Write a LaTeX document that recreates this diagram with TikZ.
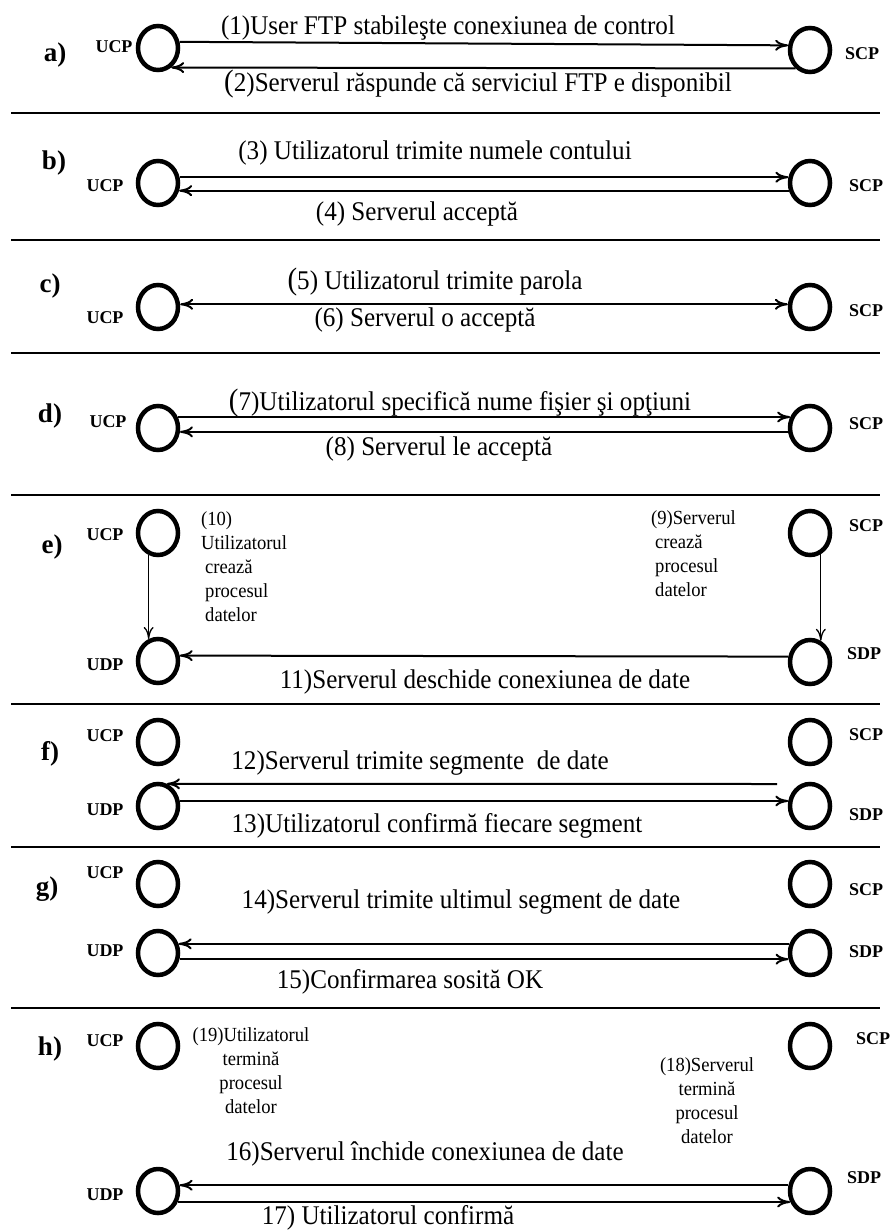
\documentclass[tikz,border=0pt]{standalone}
\usepackage{fontspec}
\setmainfont{Liberation Serif}
\newfontfamily\labfont[FakeStretch=0.93]{Liberation Serif}
\usetikzlibrary{arrows.meta,shapes.geometric}
\tikzset{
  proc/.style={ellipse, draw, line width=4.5pt, minimum width=40pt, minimum height=44pt, inner sep=0pt},
  arr/.style={line width=2pt, -{Computer Modern Rightarrow[length=13pt,width=11pt]}},
  darr/.style={line width=2pt, {Computer Modern Rightarrow[length=13pt,width=11pt]}-{Computer Modern Rightarrow[length=13pt,width=11pt]}},
  varr/.style={line width=1.3pt, -{Computer Modern Rightarrow[length=12pt,width=10pt]}},
  msg/.style={font=\labfont\fontsize{27}{30}\selectfont, anchor=base, inner sep=0pt},
  note/.style={font=\labfont\fontsize{20}{24}\selectfont, inner sep=0pt},
  tag/.style={font=\bfseries\fontsize{18}{20}\selectfont, inner sep=0pt},
  sec/.style={font=\bfseries\fontsize{27}{30}\selectfont, anchor=base, inner sep=0pt},
  sepline/.style={line width=2pt}
}
\newcommand{\bigpar}{{\fontsize{31}{31}\selectfont(}}
\begin{document}
\begin{tikzpicture}[x=1pt,y=-1pt]
\useasboundingbox (0,0) rectangle (893,1230);

% separators
\foreach \yy in {113,240,353,495,704,847,1008}
  \draw[sepline] (11,\yy) -- (880,\yy);

% ---------- a)
\node[sec] (secA) at (55,62) {a)};
\node[proc] (ucpA) at (158,48) {};
\node[proc] (scpA) at (810,50) {};
\node[tag] (tUcpA) at (114,47) {UCP};
\node[tag] (tScpA) at (862,54) {SCP};
\draw[arr] (ucpA.16) -- (scpA.168);
\draw[arr] (scpA.-128) -- (ucpA.-56);
\node[msg] (mA1) at (448,35) {(1)User FTP stabileşte conexiunea de control};
\node[msg] (mA2) at (478,92) {\bigpar2)Serverul răspunde că serviciul FTP e disponibil};

% ---------- b)
\node[sec] (secB) at (54,170) {b)};
\node[proc] (ucpB) at (158,183) {};
\node[proc] (scpB) at (810,183) {};
\node[tag] (tUcpB) at (105,186) {UCP};
\node[tag] (tScpB) at (866,186) {SCP};
\draw[arr] (ucpB.15) -- (scpB.165);
\draw[arr] (scpB.-160) -- (ucpB.-20);
\node[msg] (mB1) at (435,160) {(3) Utilizatorul trimite numele contului};
\node[msg] (mB2) at (417,221) {(4) Serverul acceptă};

% ---------- c)
\node[sec] (secC) at (50,292) {c)};
\node[proc] (ucpC) at (158,307) {};
\node[proc] (scpC) at (810,307) {};
\node[tag] (tUcpC) at (105,318) {UCP};
\node[tag] (tScpC) at (866,311) {SCP};
\draw[darr] (ucpC.7) -- (scpC.173);
\node[msg] (mC1) at (435,290) {\bigpar5) Utilizatorul trimite parola};
\node[msg] (mC2) at (425,326) {(6) Serverul o acceptă};

% ---------- d)
\node[sec] (secD) at (50,422) {d)};
\node[proc] (ucpD) at (158,428) {};
\node[proc] (scpD) at (810,428) {};
\node[tag] (tUcpD) at (108,422) {UCP};
\node[tag] (tScpD) at (866,424) {SCP};
\draw[arr] (ucpD.29) -- (scpD.151);
\draw[arr] (scpD.-170) -- (ucpD.-10);
\node[msg] (mD1) at (460,410) {\bigpar7)Utilizatorul specifică nume fişier şi opţiuni};
\node[msg] (mD2) at (439,455) {(8) Serverul le acceptă};

% ---------- e)
\node[sec] (secE) at (52,553) {e)};
\node[proc] (ucpE) at (158,533) {};
\node[proc] (scpE) at (810,533) {};
\node[proc] (udpE) at (158,661) {};
\node[proc] (sdpE) at (810,662) {};
\node[tag] (tUcpE) at (105,535) {UCP};
\node[tag] (tScpE) at (866,526) {SCP};
\node[tag] (tUdpE) at (105,665) {UDP};
\node[tag] (tSdpE) at (864,654) {SDP};
\draw[varr] (ucpE.-113) -- (udpE.113);
\draw[varr] (scpE.-63) -- (sdpE.63);
\draw[arr] (sdpE.166) -- (udpE.14);
\node[note, anchor=north west, align=left] (nE10) at (201,511)
  {(10)\\Utilizatorul\\\hspace*{4pt}crează\\\hspace*{4pt}procesul\\\hspace*{4pt}datelor};
\node[note, anchor=north west, align=left] (nE9) at (651,510)
  {(9)Serverul\\\hspace*{4pt}crează\\\hspace*{4pt}procesul\\\hspace*{4pt}datelor};
\node[msg] (mE) at (485,688) {11)Serverul deschide conexiunea de date};

% ---------- f)
\node[sec] (secF) at (50,760) {f)};
\node[proc] (ucpF) at (158,742) {};
\node[proc] (scpF) at (810,742) {};
\node[proc] (udpF) at (158,806) {};
\node[proc] (sdpF) at (810,806) {};
\node[tag] (tUcpF) at (105,736) {UCP};
\node[tag] (tScpF) at (866,735) {SCP};
\node[tag] (tUdpF) at (105,810) {UDP};
\node[tag] (tSdpF) at (866,815) {SDP};
\coordinate (fStart) at (777,784);
\draw[arr] (fStart) -- (udpF.68);
\draw[arr] (udpF.13) -- (sdpF.167);
\node[msg] (mF1) at (420,769) {12)Serverul trimite segmente\ \ de date};
\node[msg] (mF2) at (437,832) {13)Utilizatorul confirmă fiecare segment};

% ---------- g)
\node[sec] (secG) at (47,895) {g)};
\node[proc] (ucpG) at (158,884) {};
\node[proc] (scpG) at (810,884) {};
\node[proc] (udpG) at (158,953) {};
\node[proc] (sdpG) at (810,953) {};
\node[tag] (tUcpG) at (105,873) {UCP};
\node[tag] (tScpG) at (866,890) {SCP};
\node[tag] (tUdpG) at (105,951) {UDP};
\node[tag] (tSdpG) at (866,952) {SDP};
\draw[arr] (sdpG.156) -- (udpG.24);
\draw[arr] (udpG.-16) -- (sdpG.196);
\node[msg] (mG1) at (461,908) {14)Serverul trimite ultimul segment de date};
\node[msg] (mG2) at (410,988) {15)Confirmarea sosită OK};

% ---------- h)
\node[sec] (secH) at (50,1055) {h)};
\node[proc] (ucpH) at (158,1046) {};
\node[proc] (scpH) at (810,1046) {};
\node[proc] (udpH) at (158,1191) {};
\node[proc] (sdpH) at (810,1191) {};
\node[tag] (tUcpH) at (105,1041) {UCP};
\node[tag] (tScpH) at (873,1039) {SCP};
\node[tag] (tUdpH) at (105,1195) {UDP};
\node[tag] (tSdpH) at (864,1178) {SDP};
\draw[arr] (sdpH.165) -- (udpH.15);
\draw[arr] (udpH.-29) -- (sdpH.209);
\node[note, anchor=north, align=center] (nH19) at (251,1027)
  {(19)Utilizatorul\\termină\\procesul\\datelor};
\node[note, anchor=north, align=center] (nH18) at (707,1057)
  {(18)Serverul\\termină\\procesul\\datelor};
\node[msg] (mH1) at (425,1160) {16)Serverul închide conexiunea de date};
\node[msg] (mH2) at (388,1224) {17) Utilizatorul confirmă};
\end{tikzpicture}
\end{document}
